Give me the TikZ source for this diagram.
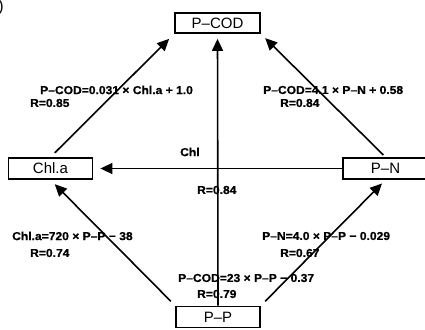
\documentclass[tikz,border=0pt]{standalone}
\usepackage{fontspec}
\setmainfont{Liberation Sans}
\newfontfamily\lblfont[FakeStretch=1.05,FakeBold=0.6]{Liberation Sans Bold}
\usetikzlibrary{arrows.meta}
\tikzset{
  box/.style={draw, line width=1.8pt, rectangle, inner sep=0pt, font=\fontsize{15}{17}\selectfont},
  conn/.style={line width=1.6pt, -{Triangle[length=12pt,width=11pt]}},
  lbl/.style={anchor=west, inner sep=0pt, font=\lblfont\fontsize{11.5}{13}\selectfont},
}
\begin{document}
\begin{tikzpicture}[x=1pt,y=-1pt]
\path[use as bounding box] (0,0) rectangle (425,329);
\clip (0,0) rectangle (425,329);
\node[anchor=east, inner sep=0pt, font=\fontsize{16}{18}\selectfont] (corner) at (4,7) {)};
\node[box, minimum width=85pt, minimum height=20pt] (PCOD) at (217.5,23) {P–COD};
\node[box, minimum width=84pt, minimum height=21pt] (Chla) at (50.5,168.5) {Chl.a};
\node[box, minimum width=85pt, minimum height=21pt] (PN) at (385.5,168.5) {P–N};
\node[box, minimum width=84pt, minimum height=21pt] (PP) at (218,317) {P–P};

\draw[conn, shorten <=6pt, shorten >=7pt] (Chla.north) -- (PCOD.south west);
\draw[conn, shorten <=3pt, shorten >=6pt] (PN.north) -- (PCOD.south east);
\draw[conn, shorten >=5pt] (PP.north) -- (PCOD.south);
\draw[conn, shorten >=7pt] (PN.west) -- (Chla.east);
\draw[conn, shorten <=6pt, shorten >=6pt] (PP.north west) -- (Chla.south);
\draw[conn, shorten <=6pt, shorten >=5pt] (PP.north east) -- (PN.south);

\node[lbl] (l1) at (40,90) {P–COD=0.031 × Chl.a + 1.0};
\node[lbl] (r1) at (30,103) {R=0.85};
\node[lbl] (l2) at (263,90) {P–COD=4.1 × P–N + 0.58};
\node[lbl] (r2) at (280,103) {R=0.84};
\node[lbl] (l3) at (180,152) {Chl};
\node[lbl] (r3) at (197,190) {R=0.84};
\node[lbl] (l4) at (12,236) {Chl.a=720 × P–P − 38};
\node[lbl] (r4) at (30,253) {R=0.74};
\node[lbl] (l5) at (262,236) {P–N=4.0 × P–P − 0.029};
\node[lbl] (r5) at (280,253) {R=0.67};
\node[lbl] (l6) at (178,278) {P–COD=23 × P–P − 0.37};
\node[lbl] (r6) at (197,294) {R=0.79};
\end{tikzpicture}
\end{document}
